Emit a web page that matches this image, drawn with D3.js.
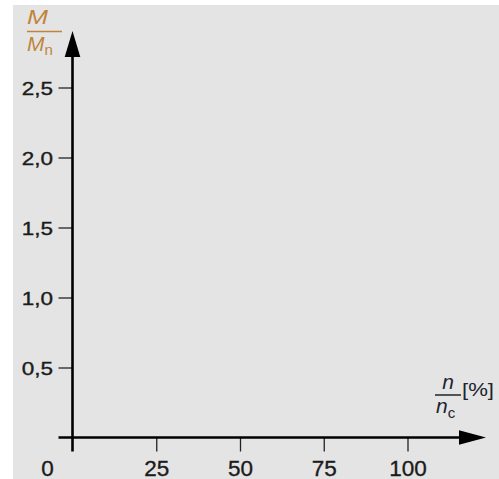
<!DOCTYPE html>
<html>
<head>
<meta charset="utf-8">
<script src="https://cdn.jsdelivr.net/npm/d3@7"></script>
<style>
  html, body { margin: 0; padding: 0; background: #fff; }
  svg { display: block; font-family: "Liberation Sans", Arial, sans-serif; }
</style>
</head>
<body>
<div id="chart"></div>
<script>
// axis ticks (empty diagram, no series drawn)
var xTicks = [25, 50, 75, 100];
var yTicks = [0.5, 1.0, 1.5, 2.0, 2.5];
var xDomain = [0, 100];
var yDomain = [0, 2.5];

var WIDTH = 499, HEIGHT = 479;
var textColor = "#1b1b1b";
var labelBrown = "#c0843a";

var svg = d3.select("#chart").append("svg")
    .attr("width", WIDTH)
    .attr("height", HEIGHT);

// grey panel
svg.append("rect")
    .attr("x", 13).attr("y", 5)
    .attr("width", WIDTH - 13).attr("height", HEIGHT - 5)
    .attr("fill", "#e4e4e4");

var x = d3.scaleLinear().domain(xDomain).range([72.5, 407.5]);
var y = d3.scaleLinear().domain(yDomain).range([437.5, 87.5]);

// comma as decimal separator
var fmt = d3.formatLocale({decimal: ",", thousands: ".", grouping: [3], currency: ["", "€"]}).format(".1f");

// y ticks + labels
var gy = svg.append("g")
    .attr("transform", `translate(${x(0)},0)`)
    .call(d3.axisLeft(y).tickValues(yTicks).tickSize(14).tickPadding(6).tickFormat(fmt));
gy.select(".domain").remove();
gy.selectAll(".tick line").attr("stroke", "#222").attr("stroke-width", 1.3);
gy.selectAll(".tick text")
    .attr("x", null).attr("dy", null)
    .attr("transform", "translate(-19.5,6.5) scale(1.25,1)")
    .attr("fill", textColor)
    .attr("stroke", textColor).attr("stroke-width", 0.35)
    .style("font-size", "18px");

// x ticks + labels
var gx = svg.append("g")
    .attr("transform", `translate(0,${y(0)})`)
    .call(d3.axisBottom(x).tickValues(xTicks).tickSize(14).tickPadding(0).tickFormat(d3.format("d")));
gx.select(".domain").remove();
gx.selectAll(".tick line").attr("stroke", "#222").attr("stroke-width", 1.3);
gx.selectAll(".tick text")
    .attr("dy", null)
    .attr("y", 38)
    .attr("fill", textColor)
    .attr("stroke", textColor).attr("stroke-width", 0.35)
    .style("font-size", "22.5px");

// origin label
svg.append("text")
    .attr("x", x(0) - 25).attr("y", y(0) + 38)
    .attr("text-anchor", "middle")
    .attr("fill", textColor)
    .attr("stroke", textColor).attr("stroke-width", 0.35)
    .style("font-size", "22.5px")
    .text("0");

// axis lines with arrow heads
var axisG = svg.append("g");
axisG.append("line")
    .attr("x1", x(0)).attr("x2", x(0))
    .attr("y1", y(0) + 14).attr("y2", 50)
    .attr("stroke", "#000").attr("stroke-width", 2.6);
axisG.append("line")
    .attr("x1", x(0) - 14).attr("x2", 465)
    .attr("y1", y(0)).attr("y2", y(0))
    .attr("stroke", "#000").attr("stroke-width", 2.6);
axisG.append("path")
    .attr("d", `M${x(0)},31 L${x(0) + 7.8},57 L${x(0) - 7.8},57 Z`)
    .attr("fill", "#000");
axisG.append("path")
    .attr("d", `M486,${y(0)} L459,${y(0) - 7.2} L459,${y(0) + 7.2} Z`)
    .attr("fill", "#000");

// y axis title  M / Mn
var yt = svg.append("g").attr("fill", labelBrown);
yt.append("text")
    .attr("x", 27).attr("y", 24)
    .style("font-size", "21px").style("font-style", "italic")
    .attr("textLength", 21).attr("lengthAdjust", "spacingAndGlyphs")
    .text("M");
yt.append("line")
    .attr("x1", 27).attr("x2", 62).attr("y1", 31.5).attr("y2", 31.5)
    .attr("stroke", labelBrown).attr("stroke-width", 1.5);
var mn = yt.append("text")
    .attr("x", 27).attr("y", 51)
    .style("font-size", "21px");
mn.append("tspan").style("font-style", "italic").text("M");
mn.append("tspan").attr("dy", 4).style("font-size", "15px").text("n");

// x axis title  n / nc [%]
var xt = svg.append("g").attr("fill", "#1c2530");
xt.append("text")
    .attr("x", 448).attr("y", 388.5)
    .attr("text-anchor", "middle")
    .style("font-size", "21px").style("font-style", "italic")
    .text("n");
xt.append("line")
    .attr("x1", 435).attr("x2", 461).attr("y1", 395).attr("y2", 395)
    .attr("stroke", "#1c2530").attr("stroke-width", 1.5);
var nc = xt.append("text")
    .attr("x", 436).attr("y", 412.5)
    .style("font-size", "21px");
nc.append("tspan").style("font-style", "italic").text("n");
nc.append("tspan").attr("dy", 5).style("font-size", "15px").text("c");
xt.append("text")
    .attr("x", 462).attr("y", 396)
    .style("font-size", "19px")
    .attr("textLength", 32).attr("lengthAdjust", "spacingAndGlyphs")
    .text("[%]");
</script>
</body>
</html>
